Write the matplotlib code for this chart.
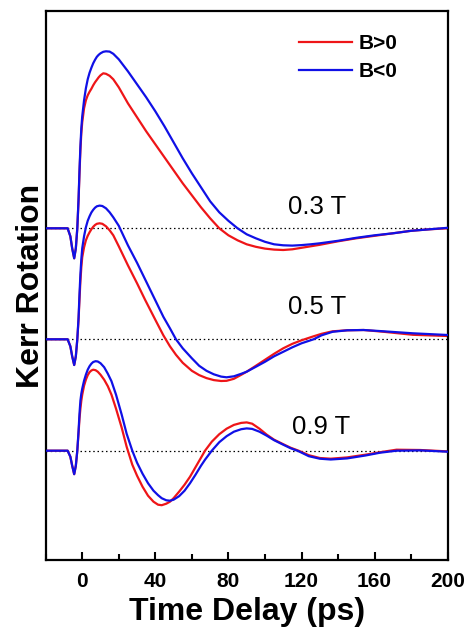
import matplotlib
matplotlib.use('Agg')
import matplotlib.pyplot as plt
from matplotlib.ticker import MultipleLocator

plt.rcParams['font.family'] = ['Liberation Sans', 'DejaVu Sans']

# Kerr rotation traces (arb. units, relative to each trace's own baseline)
FIELDS = ['0.3 T', '0.5 T', '0.9 T']
OFFSETS = [331.7, 220.7, 109.3]

t_03 = [-20, -8, -6.5, -5.5, -4.4, -3.5, -2.7, -2, -1.5, -1, -0.5, 0, 1, 2, 3, 4, 5, 6, 7, 8,
        9, 10, 11.5, 13, 15, 17, 20, 25, 30, 35, 40, 45, 50, 55, 60, 65, 70, 75, 80, 85,
        90, 95, 100, 105, 110, 115, 120, 125, 130, 140, 150, 160, 170, 180, 190, 200]
red_03 = [0, 0, -8, -20, -30, -20, 0, 28, 55, 78, 95, 106, 120, 128, 133, 136.5, 139.5, 143, 146, 148.5,
          151, 153, 155, 154.5, 152.5, 149, 141, 125, 111, 97, 84, 71, 58, 45, 33, 21, 10, 0, -7, -12,
          -16, -18.5, -20.3, -21.3, -21.7, -21, -19.5, -18, -16.5, -13, -10, -7.5, -5, -2.5, -1, 0]
blue_03 = [0, 0, -8, -20, -30, -20, 0, 30, 58, 82, 100, 112, 128, 140, 149, 155.5, 160.5, 165, 168.5, 171.5,
           173.5, 175, 176.5, 177, 176.7, 174.5, 169, 157, 144, 131, 117, 102, 86, 70, 55, 41, 27, 16, 7.5, 0,
           -6, -10, -13.5, -16, -17, -17.3, -16.8, -16, -15, -12.5, -9.5, -7, -5, -2.5, -1, 0.5]

t_05 = [-20, -8, -6.5, -5.5, -4.4, -3.5, -2.7, -2, -1.5, -1, -0.5, 0, 1, 2, 3, 4, 5, 6, 7, 8,
        9.5, 11, 13, 15, 17, 20, 25, 30, 34.4, 40, 44.4, 48, 51.3, 55, 60, 64, 68, 72, 76, 79,
        83, 87, 90, 95, 100, 105, 110, 115, 120, 126.6, 131, 137, 145, 154, 165, 181, 200]
red_05 = [0, 0, -7, -17, -25.7, -17, 0, 20, 40, 58, 72, 82, 92, 99, 103.5, 107, 110, 112.5, 114.3, 115.5,
          116, 115.5, 113, 109, 104, 93, 74, 56, 39.5, 19.5, 4, -7, -15.5, -23.5, -31.5, -35.8, -38.8, -40.8, -41.7, -41.5,
          -39.5, -35.5, -32.4, -26.5, -20.5, -14.5, -9, -4.5, -1, 3, 5.5, 8, 9, 9.3, 7.5, 4.5, 3.3]
blue_05 = [0, 0, -7, -17, -25.7, -17, 0, 22, 45, 65, 80, 91, 103, 112, 118.5, 123, 126.8, 129.5, 131.6, 133,
           133.7, 133.3, 131, 127, 122, 113.5, 94, 76.5, 60, 39, 22.5, 11, 0, -9, -19, -26.5, -31.5, -35, -37.3, -38,
           -37, -34.5, -32.4, -27.5, -22.5, -17, -12.5, -8, -4, 0, 4, 7.5, 9, 9.3, 8, 6, 4.3]

t_09 = [-20, -8, -6.5, -5.5, -4.4, -3.5, -2.7, -2, -1.5, -1, -0.5, 0, 1, 2, 3, 4, 5, 6, 7.3, 8.5,
        10, 12, 14, 16, 18.5, 21.6, 24.3, 27.4, 30, 33, 36, 39, 41.5, 43.5, 46, 48, 50, 53, 56, 59,
        62, 65, 67.2, 70.9, 75, 79, 83, 87, 90, 93, 97, 101, 105, 110, 114, 118.4, 124, 130, 136, 145,
        155, 163, 172, 185, 200]
red_09 = [0, 0, -6, -15, -23.5, -15, 0, 18, 32, 42, 50, 56, 65, 71, 75.5, 78.5, 80.2, 81, 80.5, 79,
          76, 71, 64.5, 56, 42, 23, 4, -14, -25, -36, -45, -51, -54, -54.5, -53, -51, -47.5, -41, -34, -26,
          -16.5, -7, 0, 9, 16.5, 22, 25.8, 27.8, 28.3, 27, 22, 16, 11, 6.5, 3, 0, -4.5, -7.3, -8, -6.7,
          -4, -1.5, 1, 0.7, -0.7]
blue_09 = [0, 0, -6, -15, -23.5, -15, 0, 20, 37, 50, 57, 62, 70, 76, 81, 84.5, 87, 88.7, 89.5, 89.2,
           87.5, 83.5, 77, 69.5, 56, 36, 17, 0, -12, -23, -32.5, -40, -44.5, -47.5, -49.6, -50, -49, -45.5, -40, -32.5,
           -24, -15, -9, 0, 8.5, 14.5, 19, 21.5, 22.3, 21.8, 19, 15, 10.5, 6, 2.5, -0.5, -5.5, -8, -8.8, -7.7,
           -4.8, -2, 0, 0.3, -1]

TIMES = [t_03, t_05, t_09]
RED = [red_03, red_05, red_09]
BLUE = [blue_03, blue_05, blue_09]
LABEL_POS = [(128.3, 21.6), (128.3, 32.6), (131, 24)]

fig = plt.figure(figsize=(4.71, 6.29), dpi=100)
ax = fig.add_axes([0.097, 0.1097, 0.8535, 0.8728])

for name, off, t, r, b, (lx, ly) in zip(FIELDS, OFFSETS, TIMES, RED, BLUE, LABEL_POS):
    ax.axhline(off, color='black', linestyle=(0, (1.2, 2.2)), linewidth=0.9, zorder=1)
    ax.plot(t, [v + off for v in r], color='#ee1518', linewidth=1.6, zorder=2,
            label='B>0' if off == OFFSETS[0] else None)
    ax.plot(t, [v + off for v in b], color='#1010e6', linewidth=1.6, zorder=3,
            label='B<0' if off == OFFSETS[0] else None)
    ax.text(lx, off + ly, name, fontsize=18.5, ha='center', va='center')

ax.set_xlim(-20, 200)
ax.set_ylim(0, 549)
ax.xaxis.set_major_locator(MultipleLocator(40))
ax.xaxis.set_minor_locator(MultipleLocator(20))
ax.set_yticks([])
ax.tick_params(axis='x', which='major', direction='in', length=6, width=1.5, pad=9,
               labelsize=15)
ax.tick_params(axis='x', which='minor', direction='in', length=4, width=1.5)
for lbl in ax.get_xticklabels():
    lbl.set_fontweight('bold')
for side in ax.spines.values():
    side.set_linewidth(1.6)

ax.set_xlabel('Time Delay (ps)', fontsize=23, fontweight='bold', labelpad=4)
ax.set_ylabel('Kerr Rotation', fontsize=23, fontweight='bold', labelpad=0)

ax.legend(loc='upper left', bbox_to_anchor=(0.63, 0.958), frameon=False, borderpad=0,
          borderaxespad=0, handlelength=2.55, handletextpad=0.3, labelspacing=0.45,
          prop={'size': 15, 'weight': 'bold'})

fig.savefig('out.png', dpi=100)
